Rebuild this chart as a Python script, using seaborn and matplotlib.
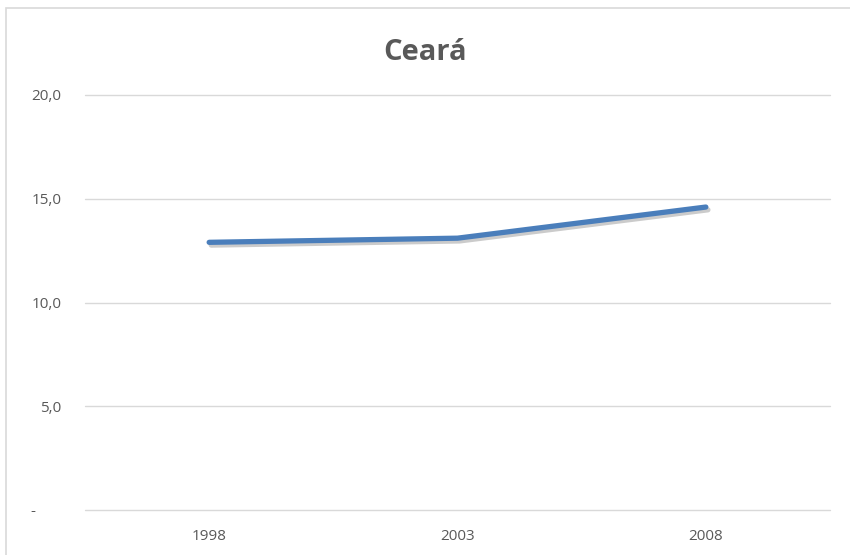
import matplotlib
matplotlib.use("Agg")
import matplotlib.pyplot as plt
import matplotlib.patheffects as pe
from matplotlib.transforms import ScaledTranslation
from matplotlib.patches import Rectangle
import seaborn as sns
import pandas as pd

years = ["1998", "2003", "2008"]
values = [12.9, 13.1, 14.6]
yticks = [0, 5, 10, 15, 20]
ytick_labels = ["-", "5,0", "10,0", "15,0", "20,0"]
title = "Ceará"

sns.set_theme(style="white")
plt.rcParams['font.family'] = ['Open Sans', 'DejaVu Sans']

df = pd.DataFrame({"ano": years, "valor": values})

fig = plt.figure(figsize=(8.5, 5.55), dpi=100)
ax = fig.add_axes([85/850, 1-510/555, 745/850, 415/555])

sns.lineplot(data=df, x="ano", y="valor", ax=ax, color="#4a7ebb", linewidth=3.8,
             solid_capstyle="round", solid_joinstyle="round", zorder=3,
             path_effects=[pe.SimpleLineShadow(offset=(1.5, -2), shadow_color="#555555", alpha=0.3),
                           pe.Normal()])

ax.set_xlim(-0.5, 2.5)
ax.set_ylim(0, 20)
ax.set_yticks(yticks)
ax.set_yticklabels(ytick_labels)
ax.grid(False)
for yv in yticks:
    ax.axhline(yv, color="#d9d9d9", linewidth=1.0, zorder=0, clip_on=False)
for s in ax.spines.values():
    s.set_visible(False)
ax.set_xlabel("")
ax.set_ylabel("")
ax.tick_params(axis="y", length=0, pad=17, labelsize=11, labelcolor="#595959")
ax.tick_params(axis="x", length=0, pad=14, labelsize=11, labelcolor="#595959")

# accounting-style dash for zero
lbl = ax.get_yticklabels()[0]
lbl.set_transform(lbl.get_transform() + ScaledTranslation(-0.26, 0, fig.dpi_scale_trans))

fig.text(0.5, 1-60/555, title, ha="center", va="baseline", fontsize=21,
         fontweight="bold", color="#595959")

fig.patches.append(Rectangle((6/850, -0.1), 1.2, 1-8/555+0.1, transform=fig.transFigure,
                             fill=False, edgecolor="#d9d9d9", linewidth=1.2))

fig.savefig("out.png", dpi=100)
